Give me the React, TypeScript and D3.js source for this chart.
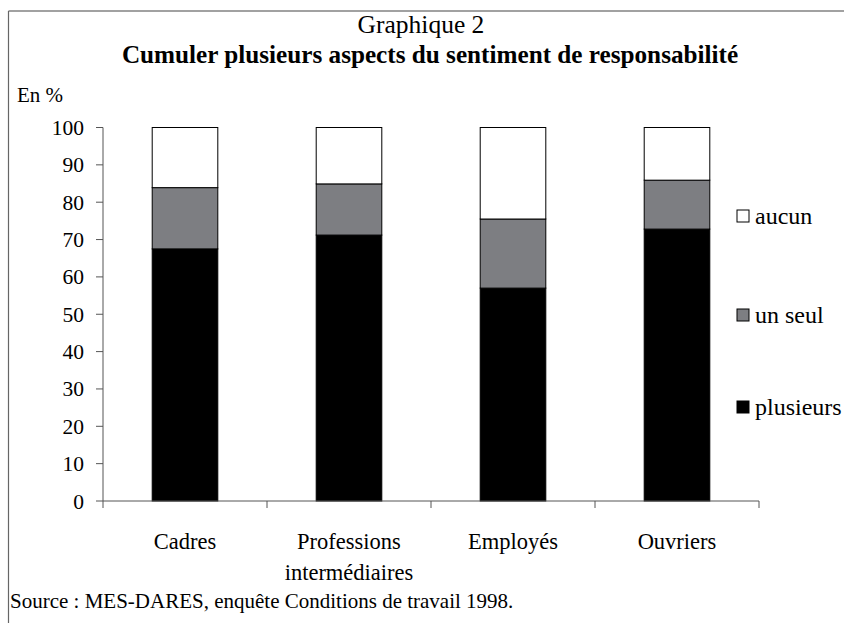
import React from "react";
import * as d3 from "d3";

const categories = ["Cadres", "Professions|intermédiaires", "Employés", "Ouvriers"];
const seriesNames = ["plusieurs", "un seul", "aucun"];
const plusieurs = [67.5, 71.2, 57.0, 72.8];
const unSeul = [16.4, 13.7, 18.5, 13.1];
const aucun = [16.1, 15.1, 24.5, 14.1];
const yTicks = [0, 10, 20, 30, 40, 50, 60, 70, 80, 90, 100];
const colors = ["#000000", "#7d7e82", "#ffffff"];

const W = 844;
const H = 623;
const FONT = "'Liberation Serif', 'Times New Roman', serif";

export default function App() {
  const x = d3
    .scaleBand<string>()
    .domain(categories)
    .range([103, 759])
    .paddingInner(0.6)
    .paddingOuter(0.3);
  const y = d3.scaleLinear().domain([0, 100]).range([501, 127.5]);

  const rows = categories.map((c, i) => ({
    cat: c,
    plusieurs: plusieurs[i],
    "un seul": unSeul[i],
    aucun: aucun[i],
  }));
  const stack = d3.stack<any>().keys(seriesNames)(rows);

  const step = x.step();
  const boundaries = d3.range(categories.length + 1).map((i) => 103 + i * step);

  const legendY = [407, 315, 216];

  return (
    <svg
      width={W}
      height={H}
      style={{ position: "absolute", left: 0, top: 0, background: "#fff" }}
      fontFamily={FONT}
    >
      {/* frame */}
      <line x1={8.5} y1={11} x2={W} y2={11} stroke="#444" strokeWidth={1.2} />
      <line x1={8.5} y1={11} x2={8.5} y2={H} stroke="#666" strokeWidth={1.2} />

      <text x={421} y={33} textAnchor="middle" fontSize={25.5}>
        Graphique 2
      </text>
      <text x={430} y={63} textAnchor="middle" fontSize={25.2} fontWeight="bold">
        Cumuler plusieurs aspects du sentiment de responsabilité
      </text>
      <text x={17} y={102} fontSize={21}>
        En %
      </text>

      {/* bars */}
      {stack.map((s, si) =>
        s.map((d, i) => (
          <rect
            key={seriesNames[si] + i}
            x={x(categories[i])}
            y={y(d[1])}
            width={x.bandwidth()}
            height={y(d[0]) - y(d[1])}
            fill={colors[si]}
            stroke="#000"
            strokeWidth={1}
          />
        ))
      )}

      {/* y axis */}
      <line x1={103} y1={y(0)} x2={103} y2={y(100)} stroke="#555" strokeWidth={1} />
      {yTicks.map((t) => (
        <g key={t}>
          <line x1={96} x2={103} y1={y(t)} y2={y(t)} stroke="#555" strokeWidth={1} />
          <text x={84} y={y(t)} dy="0.35em" textAnchor="end" fontSize={21.5}>
            {t}
          </text>
        </g>
      ))}

      {/* x axis */}
      <line x1={103} y1={y(0)} x2={759} y2={y(0)} stroke="#555" strokeWidth={1} />
      {boundaries.map((b, i) => (
        <line key={i} x1={b} x2={b} y1={y(0)} y2={y(0) + 7} stroke="#555" strokeWidth={1} />
      ))}
      {categories.map((c) => {
        const lines = c.split("|");
        const cx = (x(c) as number) + x.bandwidth() / 2;
        return (
          <text key={c} x={cx} y={549} textAnchor="middle" fontSize={22.5}>
            {lines.map((l, li) => (
              <tspan key={li} x={cx} dy={li === 0 ? 0 : 31}>
                {l}
              </tspan>
            ))}
          </text>
        );
      })}

      {/* legend */}
      {seriesNames.map((n, i) => (
        <g key={n}>
          <rect
            x={737}
            y={legendY[i] - 6}
            width={12}
            height={12}
            fill={colors[i]}
            stroke="#000"
            strokeWidth={1}
          />
          <text x={755} y={legendY[i]} dy="0.35em" fontSize={24}>
            {n}
          </text>
        </g>
      ))}

      <text x={10} y={608} fontSize={21}>
        Source : MES-DARES, enquête Conditions de travail 1998.
      </text>
    </svg>
  );
}
